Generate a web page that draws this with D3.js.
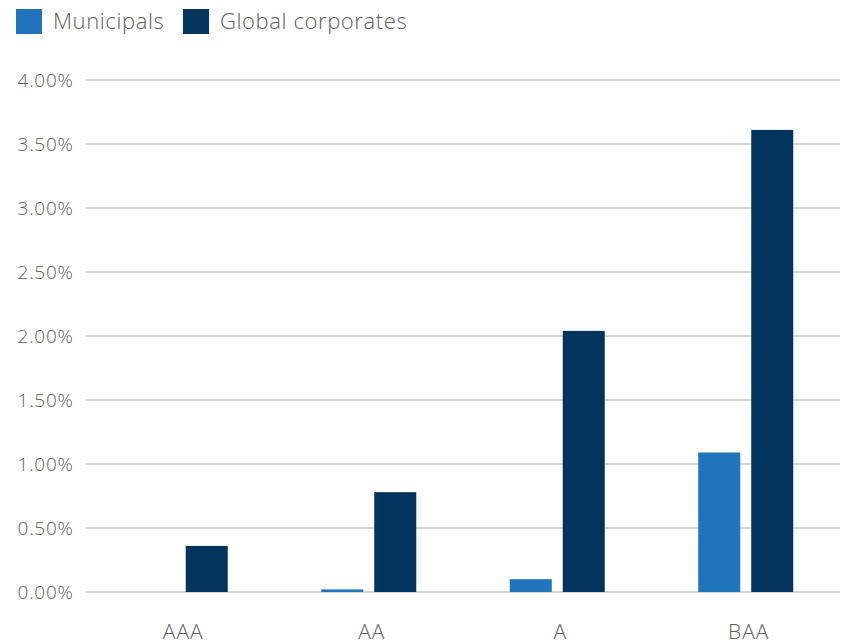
<!DOCTYPE html>
<html><head><meta charset="utf-8">
<script src="https://cdn.jsdelivr.net/npm/d3@7"></script>
<style>body{margin:0;background:#fff;} svg{display:block;font-family:"Open Sans",Lato,sans-serif;}</style>
</head><body><svg id="c" width="846" height="644"></svg>
<script>
const categories = ["AAA","AA","A","BAA"];
const seriesNames = ["Municipals","Global corporates"];
const municipals = [0, 0.02, 0.10, 1.09];
const globalCorporates = [0.36, 0.78, 2.04, 3.61];
const yTicks = [0,0.5,1,1.5,2,2.5,3,3.5,4];
const colors = ["#1f74bb","#02355e"];
const FONT = '"Open Sans",Lato,sans-serif';

const svg = d3.select("#c");
const x0 = d3.scaleBand().domain(categories).range([86,840]);
const bw = x0.bandwidth();
const x1 = d3.scaleBand().domain(seriesNames).range([bw/2-47.5, bw/2+47.5]).paddingInner(0.2075).paddingOuter(0);
const y = d3.scaleLinear().domain([0,4]).range([592,80]);

// grid
svg.append("g").selectAll("line").data(yTicks).join("line")
  .attr("x1",86).attr("x2",840).attr("y1",d=>y(d)).attr("y2",d=>y(d))
  .attr("stroke","#c8c8c8").attr("stroke-width",1.3);

const yAxis = d3.axisLeft(y).tickValues(yTicks).tickFormat(d=>d.toFixed(2)+"%").tickSize(0).tickPadding(0);
const ya = svg.append("g").attr("transform","translate(73.5,0)").call(yAxis).attr("font-family",FONT);
ya.select(".domain").remove();
ya.selectAll("text").attr("fill","#5e5e5e").style("font-size","19px").style("font-weight","300").style("letter-spacing","0.7px").attr("dy","0.35em");

const xAxis = d3.axisBottom(x0).tickSize(0).tickPadding(0);
const xa = svg.append("g").attr("transform","translate(3,622)").call(xAxis).attr("font-family",FONT);
xa.select(".domain").remove();
xa.selectAll("text").attr("fill","#5e5e5e").style("font-size","21px").style("font-weight","300").style("letter-spacing","1px").attr("dy","0.8em");

const data = categories.map((c,i)=>({cat:c, vals:[municipals[i], globalCorporates[i]]}));
const g = svg.append("g").selectAll("g").data(data).join("g").attr("transform",d=>`translate(${x0(d.cat)},0)`);
g.selectAll("rect").data(d=>d.vals.map((v,j)=>({s:seriesNames[j],v,j}))).join("rect")
  .filter(d=>d.v>0)
  .attr("x",d=>x1(d.s)).attr("width",x1.bandwidth())
  .attr("y",d=>y(d.v)).attr("height",d=>y(0)-y(d.v))
  .attr("fill",d=>colors[d.j]);

// legend
const legX = [16,183];
const lg = svg.append("g").selectAll("g").data(seriesNames).join("g").attr("transform",(d,i)=>`translate(${legX[i]},9)`);
lg.append("rect").attr("width",26).attr("height",25).attr("fill",(d,i)=>colors[i]);
lg.append("text").attr("x",37).attr("y",19.5).text(d=>d).attr("fill","#5e5e5e").style("font-size","22px").style("font-weight","300").style("letter-spacing","0.6px");
</script></body></html>
